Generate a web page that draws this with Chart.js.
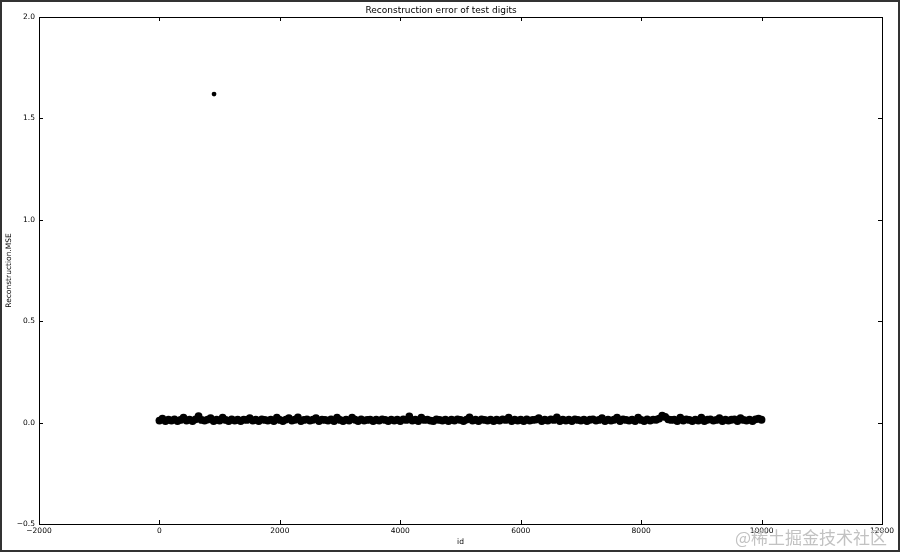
<!DOCTYPE html>
<html>
<head>
<meta charset="utf-8">
<script src="https://cdn.jsdelivr.net/npm/chart.js@4/dist/chart.umd.min.js"></script>
<style>
  body { margin: 0; background: #fff; }
  #wrap { position: relative; width: 900px; height: 552px; }
  #mark {
    position: absolute; left: 735px; top: 527px;
    font: 17px "Noto Sans CJK SC", sans-serif; line-height: 20px;
    color: #c2c2c2; white-space: nowrap;
  }
</style>
</head>
<body>
<div id="wrap">
  <canvas id="errors" width="900" height="552"></canvas>
  <div id="mark">@稀土掘金技术社区</div>
</div>
<script>
// test digit ids (sampled along the band) and their reconstruction MSE
const ids = [
  0, 50, 100, 150, 200, 250, 300, 350, 400, 450,
  500, 550, 600, 650, 700, 750, 800, 850, 900, 950,
  1000, 1050, 1100, 1150, 1200, 1250, 1300, 1350, 1400, 1450,
  1500, 1550, 1600, 1650, 1700, 1750, 1800, 1850, 1900, 1950,
  2000, 2050, 2100, 2150, 2200, 2250, 2300, 2350, 2400, 2450,
  2500, 2550, 2600, 2650, 2700, 2750, 2800, 2850, 2900, 2950,
  3000, 3050, 3100, 3150, 3200, 3250, 3300, 3350, 3400, 3450,
  3500, 3550, 3600, 3650, 3700, 3750, 3800, 3850, 3900, 3950,
  4000, 4050, 4100, 4150, 4200, 4250, 4300, 4350, 4400, 4450,
  4500, 4550, 4600, 4650, 4700, 4750, 4800, 4850, 4900, 4950,
  5000, 5050, 5100, 5150, 5200, 5250, 5300, 5350, 5400, 5450,
  5500, 5550, 5600, 5650, 5700, 5750, 5800, 5850, 5900, 5950,
  6000, 6050, 6100, 6150, 6200, 6250, 6300, 6350, 6400, 6450,
  6500, 6550, 6600, 6650, 6700, 6750, 6800, 6850, 6900, 6950,
  7000, 7050, 7100, 7150, 7200, 7250, 7300, 7350, 7400, 7450,
  7500, 7550, 7600, 7650, 7700, 7750, 7800, 7850, 7900, 7950,
  8000, 8050, 8100, 8150, 8200, 8250, 8300, 8350, 8400, 8450,
  8500, 8550, 8600, 8650, 8700, 8750, 8800, 8850, 8900, 8950,
  9000, 9050, 9100, 9150, 9200, 9250, 9300, 9350, 9400, 9450,
  9500, 9550, 9600, 9650, 9700, 9750, 9800, 9850, 9900, 9950,
  9999
];
const mse = [
  0.010, 0.020, 0.008, 0.014, 0.010, 0.016, 0.008, 0.013, 0.024, 0.010,
  0.015, 0.008, 0.016, 0.032, 0.013, 0.010, 0.015, 0.022, 0.008, 0.014,
  0.010, 0.024, 0.013, 0.008, 0.016, 0.010, 0.014, 0.008, 0.015, 0.013,
  0.022, 0.010, 0.014, 0.008, 0.016, 0.013, 0.010, 0.015, 0.008, 0.024,
  0.013, 0.008, 0.015, 0.022, 0.010, 0.014, 0.026, 0.008, 0.013, 0.016,
  0.010, 0.014, 0.022, 0.008, 0.015, 0.013, 0.010, 0.016, 0.008, 0.024,
  0.013, 0.008, 0.015, 0.010, 0.024, 0.014, 0.008, 0.016, 0.010, 0.013,
  0.015, 0.008, 0.014, 0.010, 0.016, 0.013, 0.008, 0.015, 0.010, 0.014,
  0.008, 0.016, 0.013, 0.030, 0.010, 0.014, 0.008, 0.024, 0.013, 0.015,
  0.010, 0.008, 0.016, 0.013, 0.010, 0.015, 0.008, 0.014, 0.010, 0.016,
  0.013, 0.008, 0.015, 0.026, 0.010, 0.014, 0.008, 0.016, 0.013, 0.010,
  0.015, 0.008, 0.014, 0.010, 0.016, 0.013, 0.024, 0.008, 0.015, 0.010,
  0.014, 0.008, 0.016, 0.010, 0.013, 0.015, 0.022, 0.008, 0.014, 0.010,
  0.016, 0.013, 0.026, 0.008, 0.015, 0.010, 0.014, 0.008, 0.016, 0.013,
  0.010, 0.015, 0.008, 0.014, 0.016, 0.010, 0.013, 0.022, 0.008, 0.015,
  0.010, 0.014, 0.024, 0.008, 0.016, 0.013, 0.010, 0.015, 0.008, 0.024,
  0.013, 0.008, 0.016, 0.010, 0.015, 0.014, 0.020, 0.034, 0.028, 0.016,
  0.013, 0.015, 0.008, 0.024, 0.010, 0.016, 0.013, 0.008, 0.015, 0.010,
  0.024, 0.008, 0.014, 0.016, 0.010, 0.013, 0.022, 0.008, 0.015, 0.010,
  0.014, 0.016, 0.008, 0.022, 0.013, 0.010, 0.015, 0.008, 0.016, 0.020,
  0.014
];
// the one badly reconstructed digit
const outlierIds = [907];
const outlierMse = [1.62];
const xTicks = [-2000, 0, 2000, 4000, 6000, 8000, 10000, 12000];
const yTicks = [-0.5, 0.0, 0.5, 1.0, 1.5, 2.0];

const minus = (s) => s.replace("-", "\u2212");

// matplotlib-style frame with inward ticks on all four sides, plus page border
const framePlugin = {
  id: "frame",
  afterDraw(chart) {
    const ctx = chart.ctx;
    const a = chart.chartArea;
    const xs = chart.scales.x, ys = chart.scales.y;
    ctx.save();
    ctx.strokeStyle = "#000";
    ctx.lineWidth = 1;
    ctx.beginPath();
    xTicks.forEach(function (t) {
      const px = Math.round(xs.getPixelForValue(t)) + 0.5;
      ctx.moveTo(px, a.bottom); ctx.lineTo(px, a.bottom - 4);
      ctx.moveTo(px, a.top); ctx.lineTo(px, a.top + 4);
    });
    yTicks.forEach(function (t) {
      const py = Math.round(ys.getPixelForValue(t)) + 0.5;
      ctx.moveTo(a.left, py); ctx.lineTo(a.left + 4, py);
      ctx.moveTo(a.right, py); ctx.lineTo(a.right - 4, py);
    });
    ctx.stroke();
    ctx.strokeRect(Math.round(a.left) + 0.5, Math.round(a.top) + 0.5,
      Math.round(a.right - a.left), Math.round(a.bottom - a.top));
    ctx.strokeStyle = "#333";
    ctx.lineWidth = 2;
    ctx.strokeRect(1, 1, chart.width - 2, chart.height - 2);
    ctx.restore();
  },
};

new Chart(document.getElementById("errors"), {
  type: "scatter",
  data: {
    datasets: [
      {
        label: "Reconstruction.MSE",
        data: ids.map((id, i) => ({ x: id, y: mse[i] })),
        backgroundColor: "#000",
        borderWidth: 0,
        pointRadius: 3.9,
      },
      {
        label: "outlier",
        data: outlierIds.map((id, i) => ({ x: id, y: outlierMse[i] })),
        backgroundColor: "#000",
        borderWidth: 0,
        pointRadius: 2.4,
      },
    ],
  },
  options: {
    responsive: false,
    animation: false,
    events: [],
    layout: { padding: { left: 0, right: 18, top: 0, bottom: 0 } },
    scales: {
      x: {
        type: "linear",
        min: -2000,
        max: 12000,
        afterFit: (s) => { s.height = 28; },
        afterBuildTicks: (s) => { s.ticks = xTicks.map((v) => ({ value: v })); },
        grid: { display: false, drawTicks: false },
        border: { display: false },
        ticks: {
          color: "#000",
          padding: 3,
          maxRotation: 0,
          autoSkip: false,
          font: { family: "DejaVu Sans", size: 7.5 },
          callback: (v) => minus(String(v)),
        },
        title: {
          display: true,
          text: "id",
          color: "#000",
          padding: { top: 0, bottom: 5 },
          font: { family: "DejaVu Sans", size: 7.5 },
        },
      },
      y: {
        min: -0.5,
        max: 2.0,
        afterFit: (s) => { s.width = 39; },
        afterBuildTicks: (s) => { s.ticks = yTicks.map((v) => ({ value: v })); },
        grid: { display: false, drawTicks: false },
        border: { display: false },
        ticks: {
          color: "#000",
          padding: 4,
          autoSkip: false,
          font: { family: "DejaVu Sans", size: 7.5 },
          callback: (v) => minus(v.toFixed(1)),
        },
        title: {
          display: true,
          text: "Reconstruction.MSE",
          color: "#000",
          padding: { top: 5, bottom: 0 },
          font: { family: "DejaVu Sans", size: 7.5 },
        },
      },
    },
    plugins: {
      legend: { display: false },
      tooltip: { enabled: false },
      title: {
        display: true,
        text: "Reconstruction error of test digits",
        color: "#000",
        padding: { top: 5, bottom: 1.2 },
        font: { family: "DejaVu Sans", size: 9, weight: "normal" },
      },
    },
  },
  plugins: [framePlugin],
});
</script>
</body>
</html>
